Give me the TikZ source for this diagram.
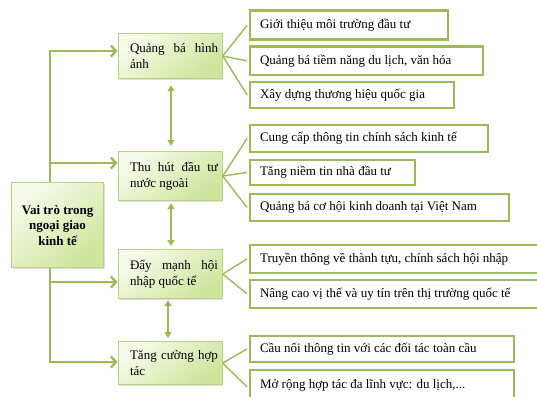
\documentclass[tikz,border=0pt]{standalone}
\usepackage{fontspec}
\setmainfont{Liberation Serif}
\usetikzlibrary{arrows.meta,shadows}
\definecolor{og}{HTML}{9BBB59}
\definecolor{ogl}{HTML}{B8D383}
\definecolor{fillTop}{HTML}{F6FBEA}
\definecolor{fillBot}{HTML}{CFE59C}
\tikzset{
  lvtwo/.style={draw=ogl, line width=1.2pt, top color=fillTop, bottom color=fillBot, shading angle=40,
    drop shadow={shadow xshift=1pt, shadow yshift=-1.5pt, opacity=0.25},
    anchor=north west, inner sep=0pt, font=\fontsize{13}{15.5}\selectfont},
  lvthree/.style={draw=og, line width=2.8pt, fill=white, anchor=north west,
    inner sep=0pt, font=\fontsize{13}{15.5}\selectfont},
  txt/.style={font=\fontsize{13}{15.5}\selectfont},
  trunk/.style={draw=og, line width=2.6pt},
  trunkarr/.style={trunk, -{Straight Barb[length=5pt,width=11pt,line width=2.4pt]}},
  dbl/.style={draw=og, line width=1.5pt, {Triangle[length=6pt,width=7pt]}-{Triangle[length=6pt,width=7pt]}},
  fan/.style={draw=og, line width=1.4pt},
}
\begin{document}
\begin{tikzpicture}[x=1pt,y=-1pt]
\useasboundingbox (0,0) rectangle (537,396);
\begin{scope}
\clip (0,0) rectangle (537,396);
% main box
\node[lvtwo, minimum width=92pt, minimum height=85pt] (main) at (11,182) {};
\node[txt, font=\fontsize{13}{15.5}\selectfont\bfseries, align=center] (maintext) at (main.center) {Vai trò trong\\ngoại giao\\kinh tế};
% level 2
\node[lvtwo, minimum width=104pt, minimum height=45pt] (qb) at (117.5,33) {};
\node[txt, text width=88pt, align=justify, anchor=west] (qbt) at ([xshift=9pt]qb.west) {Quảng bá hình ảnh};
\node[lvtwo, minimum width=104pt, minimum height=49pt] (th) at (117.5,151) {};
\node[txt, text width=88pt, align=justify, anchor=west] (tht) at ([xshift=9pt]th.west) {Thu hút đầu tư nước ngoài};
\node[lvtwo, minimum width=104pt, minimum height=49pt] (dm) at (117.5,249) {};
\node[txt, text width=88pt, align=justify, anchor=west] (dmt) at ([xshift=9pt]dm.west) {Đẩy mạnh hội nhập quốc tế};
\node[lvtwo, minimum width=104pt, minimum height=43pt] (tc) at (117.5,341) {};
\node[txt, text width=88pt, align=left, anchor=west] (tct) at ([xshift=9pt]tc.west) {Tăng cường hợp tác};
% level 3
\node[lvthree, minimum width=198pt, minimum height=29pt] (a1) at (248.5,9.5) {};
\node[lvthree, minimum width=233pt, minimum height=28pt] (a2) at (248.5,45.5) {};
\node[lvthree, minimum width=204pt, minimum height=26pt] (a3) at (248.5,80.5) {};
\node[lvthree, minimum width=238pt, minimum height=27pt] (b1) at (248.5,123.5) {};
\node[lvthree, minimum width=165pt, minimum height=25pt] (b2) at (248.5,158.5) {};
\node[lvthree, minimum width=259pt, minimum height=27pt] (b3) at (248.5,192.5) {};
\node[lvthree, minimum width=300pt, minimum height=28pt] (c1) at (248.5,243.5) {};
\node[lvthree, minimum width=300pt, minimum height=28pt] (c2) at (248.5,278.5) {};
\node[lvthree, minimum width=264pt, minimum height=26pt] (d1) at (248.5,334.5) {};
\node[lvthree, minimum width=264pt, minimum height=34pt] (d2) at (248.5,368.5) {};
\foreach \n/\t in {a1/Giới thiệu môi trường đầu tư, a2/{Quảng bá tiềm năng du lịch, văn hóa}, a3/Xây dựng thương hiệu quốc gia,
  b1/Cung cấp thông tin chính sách kinh tế, b2/Tăng niềm tin nhà đầu tư, b3/Quảng bá cơ hội kinh doanh tại Việt Nam,
  c1/{Truyền thông về thành tựu, chính sách hội nhập}, c2/Nâng cao vị thế và uy tín trên thị trường quốc tế,
  d1/Cầu nối thông tin với các đối tác toàn cầu}
  {\node[txt, anchor=west] (\n t) at ([xshift=8pt]\n.west) {\t};}
\node[txt, anchor=west] (d2t) at ([xshift=8pt,yshift=2pt]d2.west) {Mở rộng hợp tác đa lĩnh vực: du lịch,...};
% fans
\foreach \p/\c in {qb/a1, qb/a2, qb/a3, th/b1, th/b2, th/b3, dm/c1, dm/c2, tc/d1, tc/d2}
  {\draw[fan] (\p.east) -- ([xshift=-1.4pt]\c.west);}
% trunk
\coordinate (t1) at (50,51);
\coordinate (t2) at (50,163);
\coordinate (t3) at (50,282);
\coordinate (t4) at (50,362);
\draw[trunk] (main.north -| t1) -- (t1);
\draw[trunk] (main.south -| t1) -- (t4);
\draw[trunkarr] ([xshift=-1.3pt]t1) -- (t1 -| qb.west);
\draw[trunkarr] (t2) -- (t2 -| th.west);
\draw[trunkarr] (t3) -- (t3 -| dm.west);
\draw[trunkarr] ([xshift=-1.3pt]t4) -- (t4 -| tc.west);
% double arrows
\coordinate (v1) at (171,0);
\coordinate (v2) at (168,0);
\draw[dbl] ([yshift=-6pt]qb.south -| v1) -- ([yshift=5pt]th.north -| v1);
\draw[dbl] ([yshift=-2pt]th.south -| v1) -- ([yshift=3pt]dm.north -| v1);
\draw[dbl] ([yshift=-1pt]dm.south -| v2) -- ([yshift=3pt]tc.north -| v2);
\end{scope}
\end{tikzpicture}
\end{document}
